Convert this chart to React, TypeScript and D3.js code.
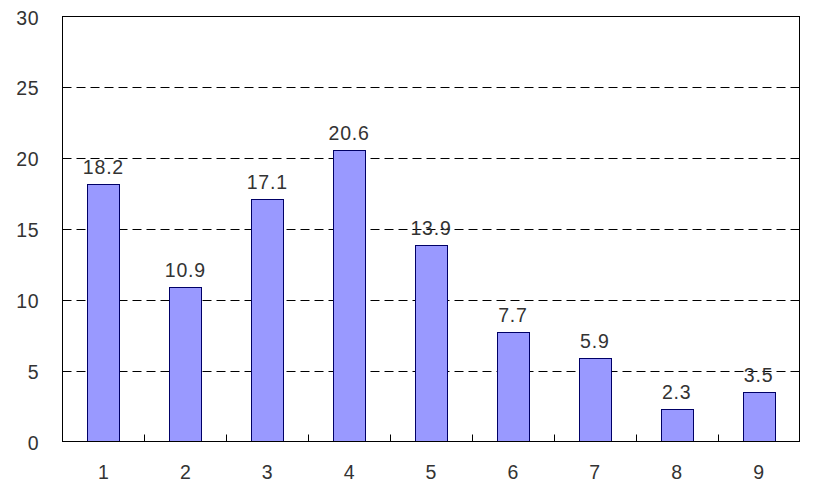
import React from "react";
import * as d3 from "d3";

const categories = ["1", "2", "3", "4", "5", "6", "7", "8", "9"];
const values = [18.2, 10.9, 17.1, 20.6, 13.9, 7.7, 5.9, 2.3, 3.5];
const yTicks = [0, 5, 10, 15, 20, 25, 30];

export default function App() {
  const W = 822, H = 493;
  const left = 62.5, right = 799.5, top = 16.5, bottom = 441.5;
  const x = d3.scaleBand<string>().domain(categories).range([left, right]).paddingInner(0).paddingOuter(0);
  const y = d3.scaleLinear().domain([0, 30]).range([bottom, top]);
  const bw = 32;
  const font = "'Liberation Sans', Arial, sans-serif";
  const fs = 19.5;
  return (
    <svg width={W} height={H} style={{ position: "absolute", left: 0, top: 0 }}>
      <rect x={0} y={0} width={W} height={H} fill="#fff" />
      {yTicks.filter(t => t > 0 && t < 30).map(t => (
        <line key={t} x1={left} x2={right} y1={Math.round(y(t)) + 0.5} y2={Math.round(y(t)) + 0.5}
          stroke="#000" strokeWidth={1} strokeDasharray="9,5" />
      ))}
      {categories.map((c, i) => {
        const cx = x(c)! + x.bandwidth() / 2;
        const yt = y(values[i]);
        return (
          <g key={c}>
            <rect x={Math.round(cx - bw / 2) + 0.5} y={Math.round(yt) + 0.5} width={bw} height={bottom - Math.round(yt) - 0.5}
              fill="#9999FF" stroke="#000066" strokeWidth={1} />
            <text x={cx} y={yt - 10} textAnchor="middle" fontFamily={font} fontSize={fs} letterSpacing={0.8} fill="#333">{values[i].toFixed(1)}</text>
            <text x={cx} y={479} textAnchor="middle" fontFamily={font} fontSize={fs} fill="#333">{c}</text>
          </g>
        );
      })}
      {categories.slice(1).map(c => (
        <line key={c} x1={Math.round(x(c)!) + 0.5} x2={Math.round(x(c)!) + 0.5} y1={bottom} y2={bottom - 7} stroke="#000" />
      ))}
      <rect x={left} y={top} width={right - left} height={bottom - top} fill="none" stroke="#000" strokeWidth={1} />
      {yTicks.map(t => (
        <text key={t} x={39} y={y(t) + 8} textAnchor="end" fontFamily={font} fontSize={fs} letterSpacing={0.5} fill="#333">{t}</text>
      ))}
    </svg>
  );
}
